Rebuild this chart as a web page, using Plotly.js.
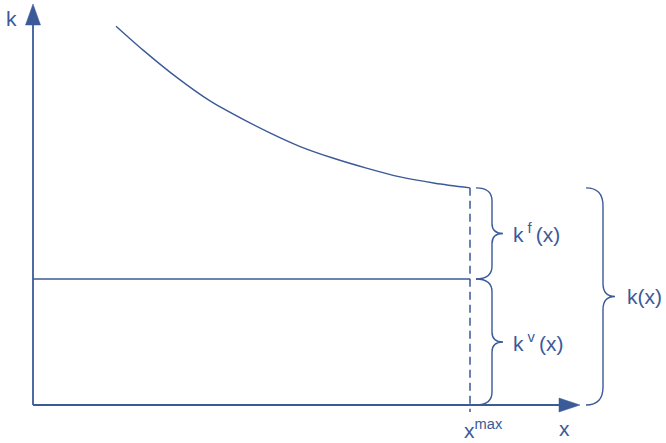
<!DOCTYPE html>
<html>
<head>
<meta charset="utf-8">
<script src="https://cdn.plot.ly/plotly-3.0.1.min.js"></script>
<style>html,body{margin:0;padding:0;background:#fff;}#chart{width:666px;height:443px;}</style>
</head>
<body>
<div id="chart"></div>
<script>
// ---- data (conceptual units) ----
const xCurve = [1.90, 2.52, 3.29, 4.05, 4.81, 5.42, 6.10, 6.86, 7.63, 8.40, 9.20, 10.0];
const kCurve = [9.02, 8.45, 7.80, 7.24, 6.80, 6.48, 6.16, 5.88, 5.64, 5.43, 5.28, 5.17];
const xMax = 10;          // x^max
const kVar = 3;           // k^v level
const kFull = 5.17;       // k at x^max
const axisLabels = ['k', 'x'];
const braceLabels = ['k<sup>\u00a0f\u00a0</sup>(x)', 'k<sup>\u00a0v\u00a0</sup>(x)', 'k(x)'];
const xMaxLabel = 'x<sup>max</sup>';

// ---- pixel scale helpers (plot area = full figure) ----
const W = 666, H = 443;
const X0PX = 33, Y0PX = 405, SX = 43.7, SY = 42;
const xr = [-X0PX / SX, (W - X0PX) / SX];
const yr = [-(H - Y0PX) / SY, Y0PX / SY];
const dx = px => px / SX, dy = px => px / SY;
const C = '#3b5a98';

function brace(x0, x1, x2, yb, yt, rEnd, rTip) {
  const ym = (yb + yt) / 2;
  const re = dy(rEnd), rt = dy(rTip);
  return `M${x0},${yt} Q${x1},${yt} ${x1},${yt - re} L${x1},${ym + rt} Q${x1},${ym} ${x2},${ym} ` +
         `Q${x1},${ym} ${x1},${ym - rt} L${x1},${yb + re} Q${x1},${yb} ${x0},${yb}`;
}

const xAxisEnd = dx(580 - X0PX), yAxisEnd = dy(Y0PX - 4);
const headLen = 21, headHalf = 7;

const shapes = [
  // axes
  {type: 'line', x0: 0, y0: 0, x1: xAxisEnd - dx(headLen) + 0.02, y1: 0, line: {color: C, width: 1.8}},
  {type: 'line', x0: 0, y0: 0, x1: 0, y1: yAxisEnd - dy(headLen) + 0.02, line: {color: C, width: 1.8}},
  {type: 'path', path: `M${xAxisEnd},0 L${xAxisEnd - dx(headLen)},${dy(headHalf)} L${xAxisEnd - dx(headLen)},${-dy(headHalf)} Z`,
   fillcolor: C, line: {color: C, width: 0.5}},
  {type: 'path', path: `M0,${yAxisEnd} L${dx(headHalf + 0.5)},${yAxisEnd - dy(headLen)} L${-dx(headHalf + 0.5)},${yAxisEnd - dy(headLen)} Z`,
   fillcolor: C, line: {color: C, width: 0.5}},
  // dashed x^max line
  {type: 'line', x0: xMax, x1: xMax, y0: kFull, y1: -dy(7), line: {color: C, width: 1.5, dash: '8px,5px'}},
  // braces
  {type: 'path', path: brace(xMax + dx(6), xMax + dx(22), xMax + dx(33), kVar, kFull, 13, 10), line: {color: C, width: 1.4}},
  {type: 'path', path: brace(xMax + dx(6), xMax + dx(22), xMax + dx(33), 0, kVar, 13, 10), line: {color: C, width: 1.4}},
  {type: 'path', path: brace(xMax + dx(116), xMax + dx(133), xMax + dx(145), 0, kFull, 18, 13), line: {color: C, width: 1.4}}
];

const traces = [
  {x: xCurve, y: kCurve, mode: 'lines', line: {color: C, width: 1.4, shape: 'spline', smoothing: 0.8}, hoverinfo: 'skip'},
  {x: [0, xMax], y: [kVar, kVar], mode: 'lines', line: {color: C, width: 1.4}, hoverinfo: 'skip'}
];

const F = {family: 'Liberation Sans, Arial, sans-serif', size: 21, color: C};
const annotations = [
  {x: dx(11 - X0PX), y: dy(Y0PX - 18), text: axisLabels[0], showarrow: false, font: F, xanchor: 'center', yanchor: 'middle'},
  {x: dx(564 - X0PX), y: dy(Y0PX - 442), text: axisLabels[1], showarrow: false, font: F, xanchor: 'center', yanchor: 'bottom'},
  {x: xMax - dx(8), y: dy(Y0PX - 429), text: xMaxLabel, showarrow: false, font: F, xanchor: 'left', yanchor: 'middle'},
  {x: xMax + dx(41), y: (kVar + kFull) / 2, text: braceLabels[0], showarrow: false, font: F, xanchor: 'left', yanchor: 'middle'},
  {x: xMax + dx(41), y: kVar / 2, text: braceLabels[1], showarrow: false, font: F, xanchor: 'left', yanchor: 'middle'},
  {x: xMax + dx(155), y: kFull / 2, text: braceLabels[2], showarrow: false, font: F, xanchor: 'left', yanchor: 'middle'}
];

const layout = {
  width: W, height: H,
  margin: {l: 0, r: 0, t: 0, b: 0, pad: 0},
  paper_bgcolor: '#fff', plot_bgcolor: '#fff',
  showlegend: false,
  xaxis: {range: xr, visible: false, fixedrange: true},
  yaxis: {range: yr, visible: false, fixedrange: true},
  shapes, annotations
};

Plotly.newPlot('chart', traces, layout, {staticPlot: true, displayModeBar: false});
</script>
</body>
</html>
